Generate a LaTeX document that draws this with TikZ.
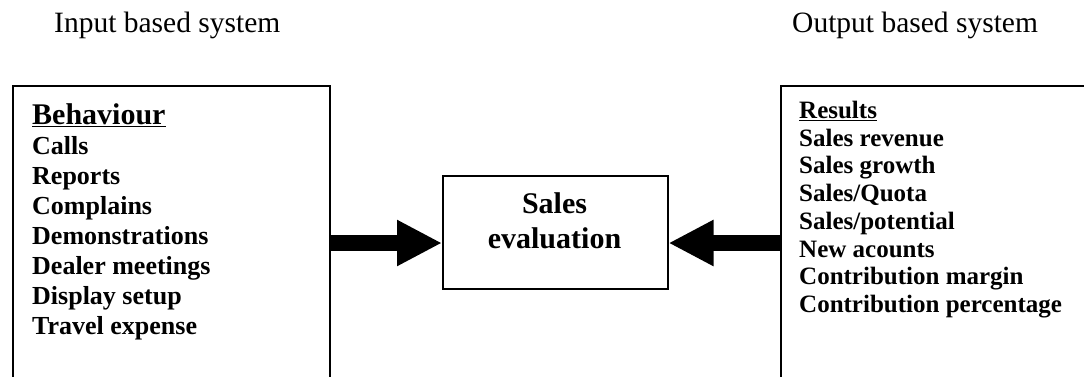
\documentclass[tikz,border=0pt]{standalone}
\usepackage{fontspec}
\setmainfont{Liberation Serif}
\tikzset{>=latex}
\usetikzlibrary{positioning,arrows.meta}
\tikzset{
  frame/.style={draw, line width=1.5pt, inner sep=0pt, anchor=north west},
  fat/.style={line width=16pt, -{Triangle[length=45pt,width=43pt]}}
}

\begin{document}
\begin{tikzpicture}[x=1pt,y=-1pt]
  \useasboundingbox (0,0) rectangle (1084,376);
  \node[anchor=base west, inner sep=0pt, font=\fontsize{29.5}{34}\selectfont] (inhead) at (54,32) {Input based system};
  \node[anchor=base west, inner sep=0pt, font=\fontsize{29.5}{34}\selectfont] (outhead) at (792,32) {Output based system};
  \node[frame, minimum width=317pt, minimum height=330pt] (inbox) at (12,85) {};
  \node[frame, minimum width=340pt, minimum height=330pt] (outbox) at (780,85) {};
  \node[frame, minimum width=225pt, minimum height=113pt] (evalbox) at (442,175) {};
  \node[anchor=north, inner sep=0pt, align=center, font=\bfseries\fontsize{30}{35}\selectfont] (evaltext) at (554.5,192.5) {Sales\\evaluation};
  \node[anchor=north west, inner sep=0pt, align=left, font=\bfseries\fontsize{26}{30}\selectfont] (inlist) at (32,103)
    {{\fontsize{30}{30}\selectfont\underline{Behaviour}}\\Calls\\Reports\\Complains\\Demonstrations\\Dealer meetings\\Display setup\\Travel expense};
  \node[anchor=north west, inner sep=0pt, align=left, font=\bfseries\fontsize{25}{27.7}\selectfont] (outlist) at (799,101)
    {\underline{Results}\\Sales revenue\\Sales growth\\Sales/Quota\\Sales/potential\\New acounts\\Contribution margin\\Contribution percentage};
  \coordinate (arrowrow) at (0,243);
  \draw[fat] (inbox.east |- arrowrow) -- (evalbox.west |- arrowrow);
  \draw[fat] (outbox.west |- arrowrow) -- (evalbox.east |- arrowrow);
\end{tikzpicture}
\end{document}
